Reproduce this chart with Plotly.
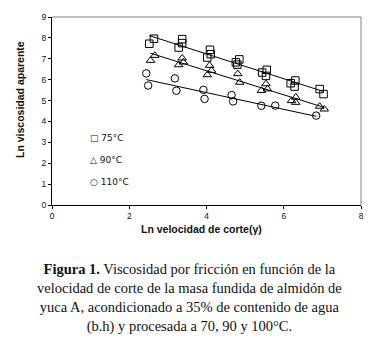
import numpy as np
import plotly.graph_objects as go

# Data
x75 = [2.52, 2.64, 3.28, 3.37, 3.37, 4.02, 4.09, 4.11, 4.76, 4.80, 4.85, 5.44, 5.54, 5.56, 6.18, 6.28, 6.30, 6.93, 7.03]
y75 = [7.72, 7.96, 7.54, 7.75, 7.94, 7.06, 7.43, 7.22, 6.83, 6.72, 6.97, 6.34, 6.18, 6.47, 5.83, 5.67, 5.96, 5.55, 5.31]

x90 = [2.55, 2.66, 3.28, 3.37, 3.40, 4.02, 4.08, 4.13, 4.81, 4.86, 5.42, 5.54, 5.58, 6.20, 6.31, 6.31, 6.93, 7.05]
y90 = [6.92, 7.16, 6.71, 7.03, 6.84, 6.23, 6.68, 6.44, 6.28, 5.87, 5.48, 5.80, 5.55, 4.99, 5.16, 4.91, 4.72, 4.59]

x110 = [2.44, 2.49, 3.18, 3.22, 3.92, 3.95, 4.65, 4.69, 5.42, 5.78, 6.84]
y110 = [6.30, 5.72, 6.06, 5.47, 5.51, 5.08, 5.26, 4.96, 4.75, 4.76, 4.28]

series_names = ["75°C", "90°C", "110°C"]
symbols = ["square-open", "triangle-up-open", "circle-open"]
x_ticks = [0, 2, 4, 6, 8]
y_ticks = [0, 1, 2, 3, 4, 5, 6, 7, 8, 9]
x_title = "Ln velocidad de corte(γ)"
y_title = "Ln viscosidad aparente"

caption = ("<b>Figura 1.</b> Viscosidad por fricción en función de la<br>"
           "velocidad de corte de la masa fundida de almidón de<br>"
           "yuca A, acondicionado a 35% de contenido de agua<br>"
           "(b.h) y procesada a 70, 90 y 100°C.")

# target positions in the screenshot; the page body adds an 8px offset
OFF = 8
L, R, T, B = 52, 361, 17, 205
W, H = 377, 344
pw, ph = R - L, B - T

def px(xp):
    return (xp - L) / pw

def py(yp):
    return (B - yp) / ph

fig = go.Figure()
data = [(x75, y75), (x90, y90), (x110, y110)]
for (xs, ys), name, sym in zip(data, series_names, symbols):
    xa = np.array(xs); ya = np.array(ys)
    m, b = np.polyfit(xa, ya, 1)
    xl = np.array([xa.min(), xa.max()])
    fig.add_trace(go.Scatter(x=xl, y=m * xl + b, mode="lines",
                             line=dict(color="black", width=1), showlegend=False, hoverinfo="skip"))
    fig.add_trace(go.Scatter(x=xs, y=ys, mode="markers", name=name,
                             marker=dict(symbol=sym, size=7.5, color="black", line=dict(width=1, color="black")),
                             showlegend=False))

tickfont = dict(family="Liberation Sans, Arial", size=8.5, color="#111")
titlefont = dict(family="Liberation Sans, Arial", size=10.5, color="#111", weight="bold")

fig.update_xaxes(range=[0, 8], tickvals=x_ticks, ticks="outside", ticklen=3, tickcolor="black",
                 showline=True, linecolor="black", linewidth=1, showgrid=False, zeroline=False,
                 tickfont=tickfont, automargin=False)
fig.update_yaxes(range=[0, 9], tickvals=y_ticks, ticks="outside", ticklen=3, tickcolor="black",
                 showline=True, linecolor="black", linewidth=1, showgrid=False, zeroline=False,
                 tickfont=tickfont, automargin=False)

shapes = [
    dict(type="line", xref="paper", yref="paper", x0=0, x1=1, y0=1, y1=1, line=dict(color="#808080", width=1)),
    dict(type="line", xref="paper", yref="paper", x0=1, x1=1, y0=0, y1=1, line=dict(color="#808080", width=1)),
]

annotations = []
annotations.append(dict(text=x_title, xref="paper", yref="paper", x=px(201), y=py(229),
                        xanchor="center", yanchor="middle", showarrow=False, font=titlefont))
annotations.append(dict(text=y_title, xref="paper", yref="paper", x=px(20), y=py(100),
                        xanchor="center", yanchor="middle", textangle=-90, showarrow=False, font=titlefont))

leg_syms = ["□", "△", "○"]
leg_y_px = [137.5, 160, 182]
for s, name, ypx in zip(leg_syms, series_names, leg_y_px):
    annotations.append(dict(text=s + " " + name, xref="paper", yref="paper",
                            x=px(88), y=py(ypx), xanchor="left", yanchor="middle",
                            showarrow=False, font=dict(family="DejaVu Sans", size=9, color="#111")))

annotations.append(dict(text=caption, xref="paper", yref="paper", x=px(189), y=py(259),
                        xanchor="center", yanchor="top", align="center", showarrow=False,
                        font=dict(family="Liberation Serif", size=14.5, color="#111")))

fig.update_layout(width=W - OFF, height=H - OFF,
                  margin=dict(l=L - OFF, r=W - R, t=T - OFF, b=H - B),
                  plot_bgcolor="white", paper_bgcolor="white", shapes=shapes, annotations=annotations,
                  showlegend=False)

fig.write_html("out.html")
